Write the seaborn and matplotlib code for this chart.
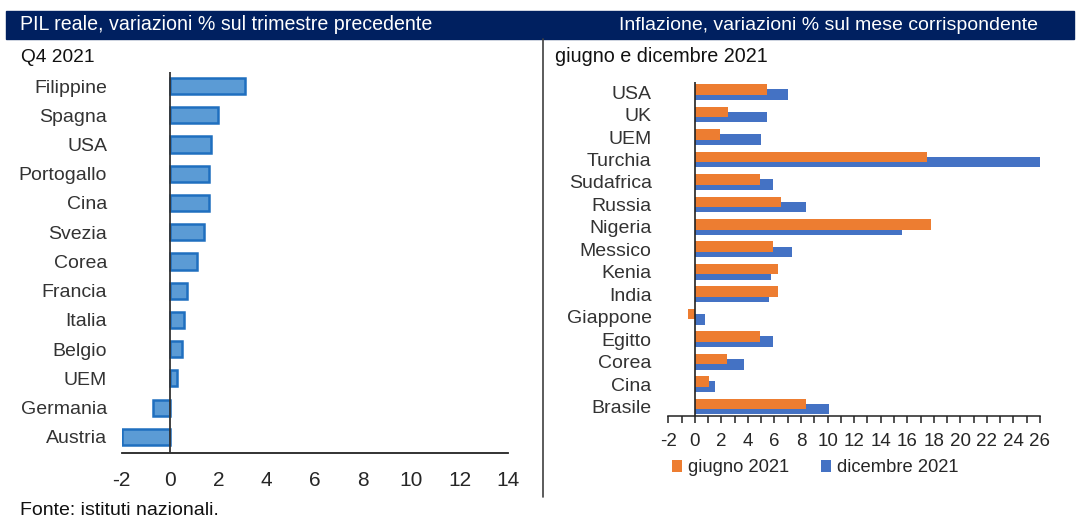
import matplotlib.pyplot as plt
import numpy as np
import pandas as pd
import seaborn as sns
from matplotlib.lines import Line2D
from matplotlib.patches import Rectangle
from matplotlib.ticker import MultipleLocator

sns.set_style("white")
plt.rcParams["font.family"] = ["Liberation Sans", "DejaVu Sans"]
plt.rcParams["axes.unicode_minus"] = False

# PIL reale, Q4 2021 (var. % t/t)
paesi_pil = ["Filippine", "Spagna", "USA", "Portogallo", "Cina", "Svezia", "Corea",
             "Francia", "Italia", "Belgio", "UEM", "Germania", "Austria"]
pil_q4 = [3.1, 2.0, 1.7, 1.6, 1.6, 1.4, 1.1, 0.7, 0.6, 0.5, 0.3, -0.7, -2.0]

# Inflazione, var. % a/a
paesi_infl = ["USA", "UK", "UEM", "Turchia", "Sudafrica", "Russia", "Nigeria", "Messico",
              "Kenia", "India", "Giappone", "Egitto", "Corea", "Cina", "Brasile"]
infl_giugno = [5.4, 2.5, 1.9, 17.5, 4.9, 6.5, 17.8, 5.9, 6.3, 6.3, -0.5, 4.9, 2.4, 1.1, 8.4]
infl_dicembre = [7.0, 5.4, 5.0, 26.0, 5.9, 8.4, 15.6, 7.3, 5.7, 5.6, 0.8, 5.9, 3.7, 1.5, 10.1]
mesi = ["giugno 2021", "dicembre 2021"]

W, H = 1076, 519
fig = plt.figure(figsize=(W / 100, H / 100), dpi=100)


def px_axes(left, top, right, bottom):
    return fig.add_axes([left / W, 1 - bottom / H, (right - left) / W, (bottom - top) / H])


# header band + separator
fig.patches.append(Rectangle((6 / W, 1 - 39 / H), 1068 / W, 28 / H,
                             transform=fig.transFigure, color="#002060", zorder=0))
fig.add_artist(Line2D([543 / W, 543 / W], [1 - 39 / H, 1 - 497 / H], color="#404040", lw=1.2))
fig.text(20 / W, 1 - 25 / H, "PIL reale, variazioni % sul trimestre precedente",
         color="white", fontsize=14.1, va="center", ha="left")
fig.text(1038 / W, 1 - 25 / H, "Inflazione, variazioni % sul mese corrispondente",
         color="white", fontsize=14.0, va="center", ha="right")
fig.text(21 / W, 1 - 57 / H, "Q4 2021", fontsize=13.8, va="center", ha="left", color="#111111")
fig.text(555 / W, 1 - 57 / H, "giugno e dicembre 2021", fontsize=14.2, va="center", ha="left",
         color="#111111")
fig.text(20 / W, 1 - 515 / H, "Fonte: istituti nazionali.", fontsize=14.0,
         va="baseline", ha="left", color="#111111")

# left panel
ax1 = px_axes(121.7, 72, 508, 453)
df_pil = pd.DataFrame({"paese": paesi_pil, "valore": pil_q4})
sns.barplot(data=df_pil, y="paese", x="valore", ax=ax1, color="#5b9bd5", saturation=1,
            edgecolor="#1f6fbf", linewidth=1.8, width=0.55)
ax1.set_xlim(-2, 14)
ax1.set_ylim(12.55, -0.48)
ax1.axvline(0, color="#333333", lw=1.3, zorder=4)
ax1.set_xticks(np.arange(-2, 15, 2))
ax1.tick_params(axis="x", length=6, width=1.3, labelsize=15, pad=7, color="#222222")
ax1.tick_params(axis="y", length=0, labelsize=14, pad=10.5, labelcolor="#333333")
for s in ["top", "right", "left"]:
    ax1.spines[s].set_visible(False)
ax1.spines["bottom"].set_color("#222222")
ax1.spines["bottom"].set_linewidth(1.3)
ax1.set_xlabel("")
ax1.set_ylabel("")

# right panel
ax2 = px_axes(668.3, 82, 1040, 416)
df_infl = pd.DataFrame({
    "paese": paesi_infl * 2,
    "valore": infl_giugno + infl_dicembre,
    "mese": [mesi[0]] * len(paesi_infl) + [mesi[1]] * len(paesi_infl),
})
sns.barplot(data=df_infl, y="paese", x="valore", hue="mese", hue_order=mesi, ax=ax2,
            palette={mesi[0]: "#ed7d31", mesi[1]: "#4472c4"}, saturation=1,
            width=0.46, dodge=True, linewidth=0)
# Excel-style overlapping bars
for k, cont in enumerate(ax2.containers):
    for bar in cont:
        c = bar.get_y() + bar.get_height() / 2
        bar.set_height(0.47)
        bar.set_y(c - 0.235)
        bar.set_zorder(3 if k == 0 else 2)
ax2.set_xlim(-2, 26)
ax2.set_ylim(14.42, -0.45)
ax2.axvline(0, color="#222222", lw=1.2, zorder=4)
ax2.set_xticks(np.arange(-2, 27, 2))
ax2.xaxis.set_minor_locator(MultipleLocator(1))
ax2.tick_params(axis="x", which="both", bottom=True, length=5, width=1.1, labelsize=13.5,
                pad=7, color="#222222")
ax2.tick_params(axis="y", length=0, labelsize=14, pad=12, labelcolor="#333333")
for s in ["top", "right", "left"]:
    ax2.spines[s].set_visible(False)
ax2.spines["bottom"].set_color("#222222")
ax2.spines["bottom"].set_linewidth(1.1)
ax2.set_xlabel("")
ax2.set_ylabel("")
sns.move_legend(ax2, "center", bbox_to_anchor=(0.395, -0.155), ncol=2, frameon=False,
                title=None, fontsize=13.2, handlelength=0.55, handleheight=0.6,
                handletextpad=0.35, columnspacing=1.7)

fig.savefig("out.png", dpi=100)
